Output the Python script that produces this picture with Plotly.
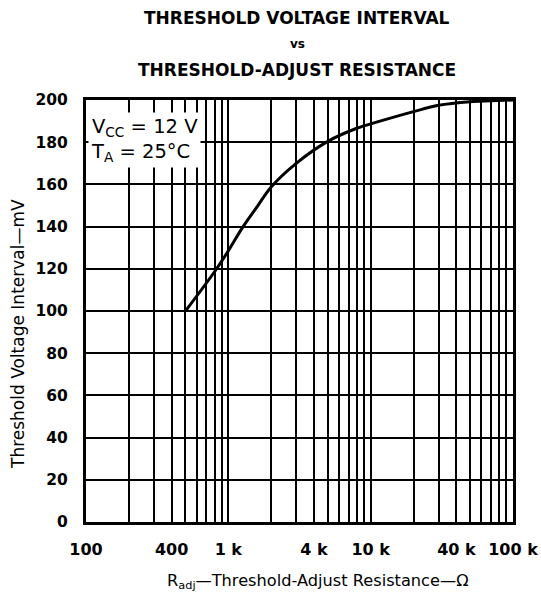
import plotly.graph_objects as go

# Data
r_adj_ohm = [500, 800, 1000, 1250, 1600, 2000, 3000, 5000, 8000, 11000, 20000, 30000, 50000, 70000, 100000]
v_interval_mv = [100, 118.6, 128.5, 139.3, 149.6, 158.8, 170, 180.4, 186.6, 189.5, 194.5, 197.5, 199.2, 199.6, 200]

x_tick_vals = [100, 400, 1000, 4000, 10000, 40000, 100000]
x_tick_text = ["100", "400", "1 k", "4 k", "10 k", "40 k", "100 k"]
x_minor_vals = [m * d for d in (100, 1000, 10000) for m in range(1, 10)] + [100000]
y_tick_vals = list(range(0, 201, 20))

FONT = "DejaVu Sans"

fig = go.Figure()
fig.add_trace(go.Scatter(
    x=r_adj_ohm, y=v_interval_mv, mode="lines",
    line=dict(color="black", width=3, shape="spline", smoothing=1.0),
    showlegend=False, hoverinfo="skip",
))

fig.update_layout(
    width=541, height=596,
    margin=dict(l=86, r=28, t=100, b=74),
    paper_bgcolor="white", plot_bgcolor="white",
    font=dict(family=FONT, color="black"),
    showlegend=False,
)

fig.update_xaxes(
    type="log", range=[2, 5], automargin=False,
    tickmode="array", tickvals=x_tick_vals, ticktext=x_tick_text,
    showgrid=True, gridcolor="black", gridwidth=1.8,
    minor=dict(tickmode="array", tickvals=x_minor_vals, showgrid=True,
               gridcolor="black", gridwidth=1.8, ticks=""),
    ticks="", ticklabelstandoff=11,
    tickfont=dict(family=FONT, size=16, color="black", weight="bold"),
    showline=True, linecolor="black", linewidth=3, mirror=True,
    zeroline=False,
)
fig.update_yaxes(
    range=[0, 200], automargin=False,
    tickmode="array", tickvals=y_tick_vals,
    showgrid=True, gridcolor="black", gridwidth=1.8,
    ticks="", ticklabelstandoff=12,
    tickfont=dict(family=FONT, size=15.5, color="black", weight="bold"),
    showline=True, linecolor="black", linewidth=3, mirror=True,
    zeroline=False,
)

# Titles
fig.add_annotation(text="THRESHOLD VOLTAGE INTERVAL", xref="paper", yref="paper",
                   x=0.495, y=(522 - 18) / 422, xanchor="center", yanchor="middle",
                   showarrow=False, font=dict(family=FONT, size=17, weight="bold"))
fig.add_annotation(text="vs", xref="paper", yref="paper",
                   x=0.495, y=(522 - 44) / 422, xanchor="center", yanchor="middle",
                   showarrow=False, font=dict(family=FONT, size=12, weight="bold"))
fig.add_annotation(text="THRESHOLD-ADJUST RESISTANCE", xref="paper", yref="paper",
                   x=0.495, y=(522 - 70) / 422, xanchor="center", yanchor="middle",
                   showarrow=False, font=dict(family=FONT, size=17, weight="bold"))

# Axis titles
fig.add_annotation(text="R<sub>adj</sub>—Threshold-Adjust Resistance—Ω",
                   xref="paper", yref="paper", x=(318 - 86) / 427, y=(522 - 581) / 422,
                   xanchor="center", yanchor="middle", showarrow=False,
                   font=dict(family=FONT, size=16.2))
fig.add_annotation(text="Threshold Voltage Interval—mV",
                   xref="paper", yref="paper", x=(18 - 86) / 427, y=(522 - 334) / 422,
                   xanchor="center", yanchor="middle", textangle=-90, showarrow=False,
                   font=dict(family=FONT, size=17))

# Conditions box
fig.add_annotation(text="V<sub>CC</sub> = 12 V<br>T<sub>A</sub> = 25°C",
                   xref="paper", yref="paper", x=0.004, y=(522 - 112) / 422,
                   xanchor="left", yanchor="top", align="left", showarrow=False,
                   bgcolor="white", borderpad=2,
                   font=dict(family=FONT, size=19.5))

fig.write_html("out.html", config={"displayModeBar": False},
               post_script="document.body.style.margin='0';")
